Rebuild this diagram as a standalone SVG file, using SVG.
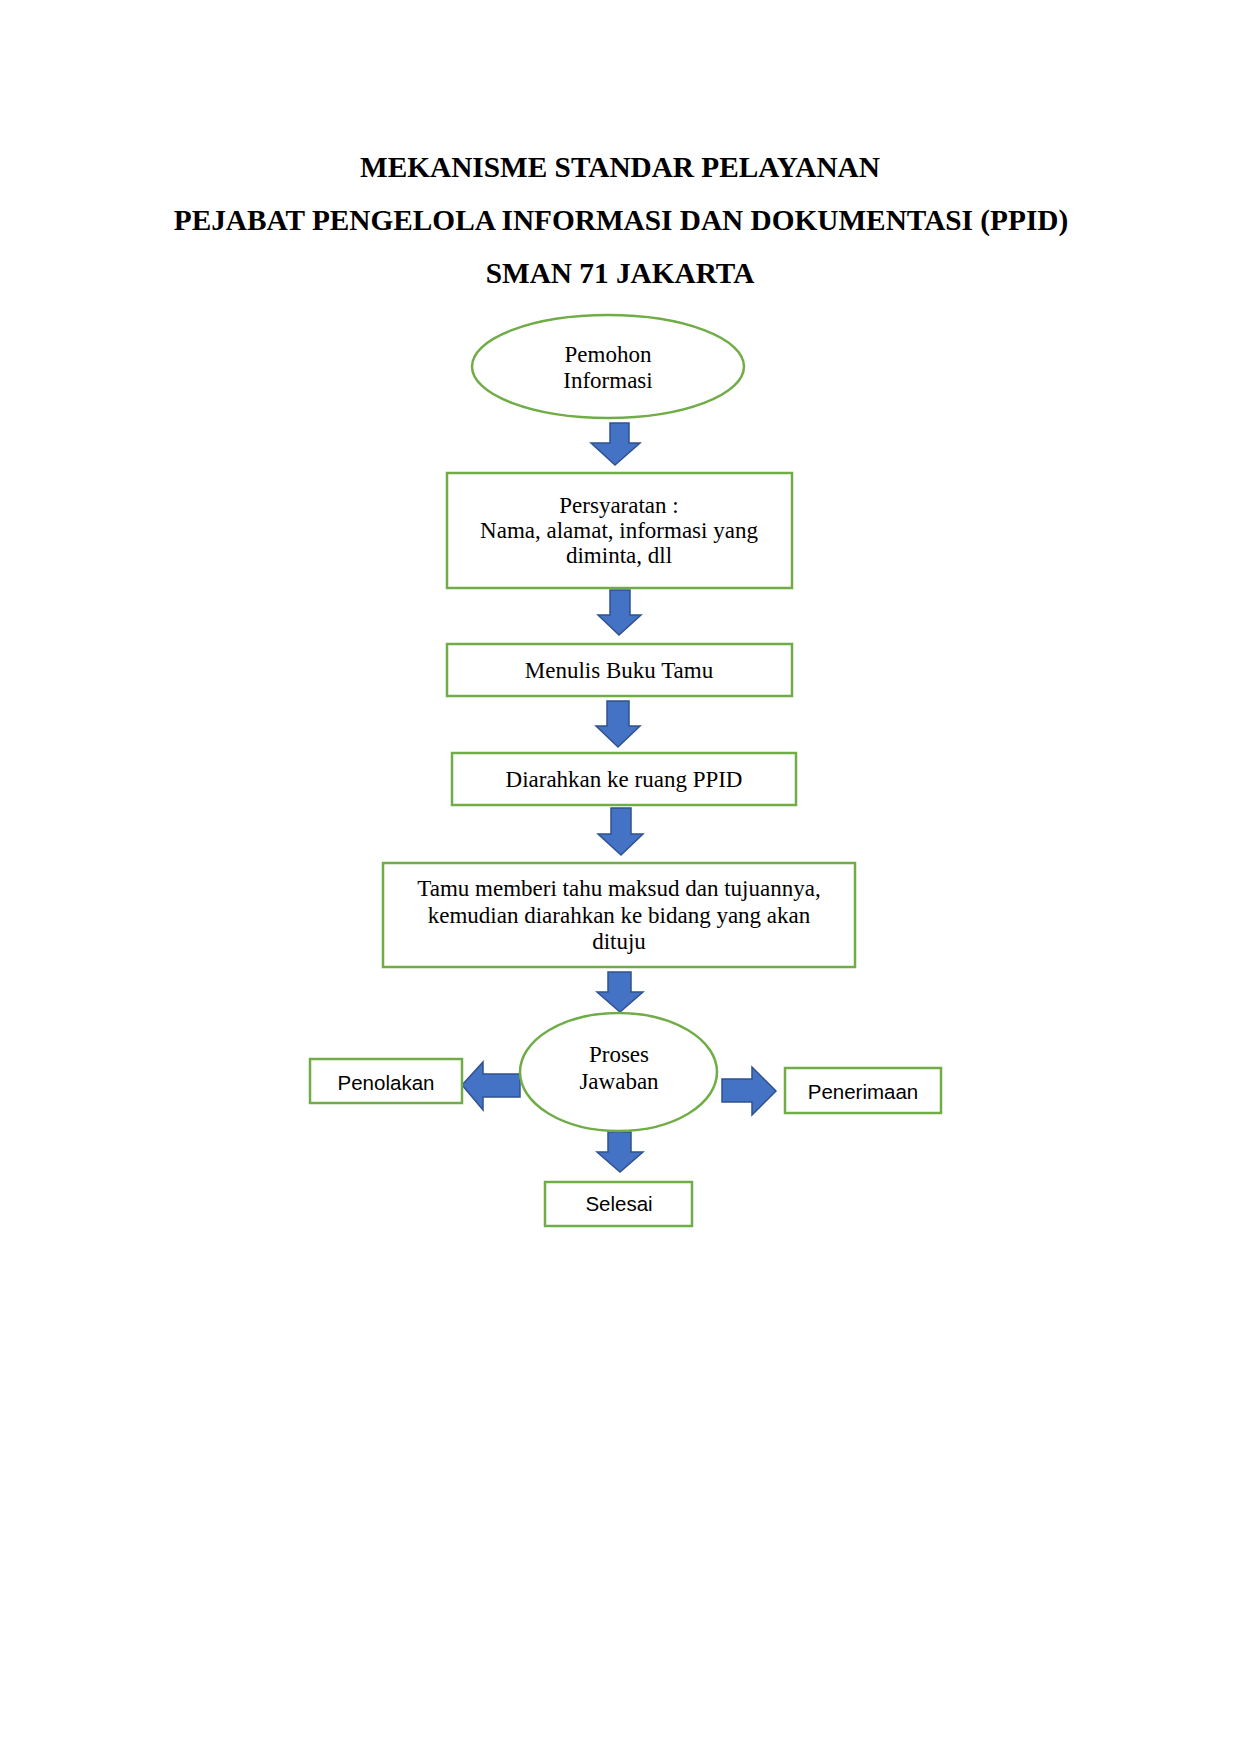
<svg xmlns="http://www.w3.org/2000/svg" width="1241" height="1755" viewBox="0 0 1241 1755">
<style>
.bg{fill:#ffffff}
.title{font-family:"Liberation Serif","Times New Roman",serif;font-weight:bold;font-size:29.3px;fill:#000;text-anchor:middle}
.serif{font-family:"Liberation Serif","Times New Roman",serif;font-size:23px;fill:#000;text-anchor:middle}
.sans{font-family:"Liberation Sans",Arial,sans-serif;font-size:20.5px;fill:#000;text-anchor:middle}
.node{fill:#ffffff;stroke:#70AD47;stroke-width:2.5}
.arrow{fill:#4472C4;stroke:#2F528F;stroke-width:1.5;stroke-linejoin:miter}
</style>
<rect class="bg" x="0" y="0" width="1241" height="1755"/>
<g id="title">
<text class="title" x="620" y="177">MEKANISME STANDAR PELAYANAN</text>
<text class="title" x="621" y="230">PEJABAT PENGELOLA INFORMASI DAN DOKUMENTASI (PPID)</text>
<text class="title" x="620" y="283">SMAN 71 JAKARTA</text>
</g>
<g id="connectors">
<polygon class="arrow" points="610,423 629,423 629,443 640,443 615,465 591,443 610,443"/>
<polygon class="arrow" points="610,590 630,590 630,615 641,615 619,635 598,615 610,615"/>
<polygon class="arrow" points="607,701 629,701 629,726 640,726 618,747 596,726 607,726"/>
<polygon class="arrow" points="611,808 631,808 631,834 643,834 621,855 598,834 611,834"/>
<polygon class="arrow" points="608,972 631,972 631,992 643,992 620,1012 597,992 608,992"/>
<polygon class="arrow" points="608,1132 631,1132 631,1152 643,1152 620,1172 597,1152 608,1152"/>
<polygon class="arrow" points="520,1074 520,1097 483,1097 483,1110 462,1085 483,1062 483,1074"/>
<polygon class="arrow" points="722,1079 752,1079 752,1067 776,1091 752,1115 752,1102 722,1102"/>
</g>
<g id="pemohon">
<ellipse class="node" cx="608" cy="366.5" rx="136" ry="51.5"/>
<text class="serif" x="608" y="362">Pemohon</text>
<text class="serif" x="608" y="388">Informasi</text>
</g>
<g id="persyaratan">
<rect class="node" x="447" y="473" width="345" height="115"/>
<text class="serif" x="619" y="513">Persyaratan :</text>
<text class="serif" x="619" y="538">Nama, alamat, informasi yang</text>
<text class="serif" x="619" y="563">diminta, dll</text>
</g>
<g id="bukutamu">
<rect class="node" x="447" y="644" width="345" height="52"/>
<text class="serif" x="619" y="678">Menulis Buku Tamu</text>
</g>
<g id="ruangppid">
<rect class="node" x="452" y="753" width="344" height="52"/>
<text class="serif" x="624" y="787">Diarahkan ke ruang PPID</text>
</g>
<g id="tamu">
<rect class="node" x="383" y="863" width="472" height="104"/>
<text class="serif" x="619" y="896">Tamu memberi tahu maksud dan tujuannya,</text>
<text class="serif" x="619" y="923">kemudian diarahkan ke bidang yang akan</text>
<text class="serif" x="619" y="949">dituju</text>
</g>
<g id="proses">
<ellipse class="node" cx="618.5" cy="1072" rx="98.5" ry="59"/>
<text class="serif" x="619" y="1062">Proses</text>
<text class="serif" x="619" y="1089">Jawaban</text>
</g>
<g id="penolakan">
<rect class="node" x="310" y="1059" width="152" height="44"/>
<text class="sans" x="386" y="1090">Penolakan</text>
</g>
<g id="penerimaan">
<rect class="node" x="785" y="1068" width="156" height="45"/>
<text class="sans" x="863" y="1099">Penerimaan</text>
</g>
<g id="selesai">
<rect class="node" x="545" y="1182" width="147" height="44"/>
<text class="sans" x="619" y="1211">Selesai</text>
</g>
</svg>
